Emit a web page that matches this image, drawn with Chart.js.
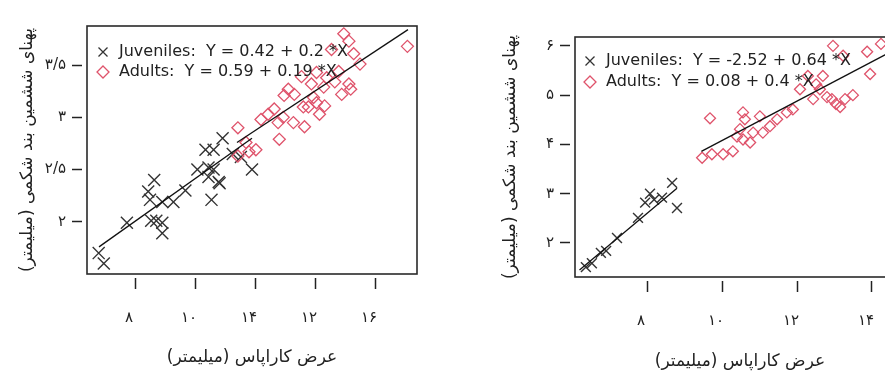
<!DOCTYPE html>
<html>
<head>
<meta charset="utf-8">
<script src="https://cdn.jsdelivr.net/npm/chart.js@4/dist/chart.umd.min.js"></script>
<style>
  html, body { margin: 0; padding: 0; background: #fff; overflow: hidden; }
  #wrap { position: relative; width: 885px; height: 374px; overflow: hidden; }
  #left { position: absolute; left: 0; top: 0; }
  #right { position: absolute; left: 440px; top: 0; }
</style>
</head>
<body>
<div id="wrap">
  <canvas id="left" width="440" height="374"></canvas>
  <canvas id="right" width="490" height="374"></canvas>
</div>
<script>
// ---- left panel data ----
const juvXLeft = [6.79, 6.96, 7.73, 8.64, 8.44, 8.50, 8.54, 8.71, 8.91, 8.91, 8.91, 9.28, 9.68,
  10.08, 10.35, 10.62, 10.92, 10.45, 10.79, 10.55, 10.62, 10.45, 11.26, 11.53, 11.90, 10.82];
const juvYLeft = [1.70, 1.60, 1.99, 2.40, 2.29, 2.21, 2.01, 2.01, 1.99, 1.89, 2.19, 2.19, 2.30,
  2.50, 2.69, 2.69, 2.80, 2.43, 2.38, 2.21, 2.50, 2.52, 2.65, 2.62, 2.50, 2.37];
const adultXLeft = [11.43, 11.70, 12.03, 11.80, 11.43, 12.20, 12.44, 12.64, 12.77, 12.81, 12.94, 12.97,
  13.11, 13.31, 13.28, 13.55, 13.65, 13.61, 13.78, 13.95, 14.05, 14.05, 14.15, 14.29, 14.32, 14.39,
  14.66, 14.79, 14.89, 14.96, 15.13, 15.13, 15.19, 15.50, 15.29, 17.08, 14.55, 13.88];
const adultYLeft = [2.90, 2.76, 2.69, 2.67, 2.63, 2.98, 3.03, 3.08, 2.95, 2.79, 3.00, 3.21,
  3.27, 3.22, 2.95, 3.39, 2.91, 3.10, 3.10, 3.19, 3.14, 3.43, 3.03, 3.29, 3.11, 3.38,
  3.34, 3.44, 3.22, 3.80, 3.73, 3.32, 3.27, 3.51, 3.61, 3.68, 3.65, 3.32];
const juvLineXLeft = [6.8, 11.9];
const juvLineYLeft = [1.76, 2.80];
const adultLineXLeft = [11.4, 17.1];
const adultLineYLeft = [2.76, 3.84];
const xTicksLeft = [8, 10, 12, 14, 16];
const xTickLabelsLeft = ['۸', '۱۰', '۱۴', '۱۲', '۱۶'];
const yTicksLeft = [2, 2.5, 3, 3.5];
const yTickLabelsLeft = ['۲', '۲/۵', '۳', '۳/۵'];
const legendLeft = ['Juveniles:  Y = 0.42 + 0.2 *X', 'Adults:  Y = 0.59 + 0.19 *X'];

// ---- right panel data ----
const juvXRight = [6.37, 6.53, 6.77, 6.91, 7.20, 7.76, 7.95, 8.08, 8.19, 8.40, 8.67, 8.80];
const juvYRight = [1.51, 1.59, 1.80, 1.84, 2.10, 2.51, 2.82, 3.00, 2.88, 2.92, 3.22, 2.71];
const adultXRight = [9.47, 9.73, 10.03, 10.29, 9.68, 10.56, 10.61, 10.48, 10.40, 10.56, 10.75, 10.83,
  11.01, 11.09, 11.28, 11.47, 11.73, 11.89, 12.29, 12.43, 12.51, 12.61, 12.69, 12.80, 12.93, 13.04,
  13.15, 13.28, 13.49, 12.96, 13.23, 13.87, 13.95, 14.24, 12.08];
const adultYRight = [3.73, 3.80, 3.80, 3.86, 4.53, 4.65, 4.51, 4.31, 4.16, 4.10, 4.04, 4.24,
  4.57, 4.24, 4.37, 4.51, 4.65, 4.71, 5.39, 4.92, 5.22, 5.12, 5.39, 4.96, 4.92, 4.82,
  4.76, 4.92, 5.00, 6.00, 5.80, 5.88, 5.43, 6.04, 5.12];
const juvLineXRight = [6.2, 8.8];
const juvLineYRight = [1.45, 3.11];
const adultLineXRight = [9.45, 14.6];
const adultLineYRight = [3.86, 5.92];
const xTicksRight = [8, 10, 12, 14];
const xTickLabelsRight = ['۸', '۱۰', '۱۲', '۱۴'];
const yTicksRight = [2, 3, 4, 5, 6];
const yTickLabelsRight = ['۲', '۳', '۴', '۵', '۶'];
const legendRight = ['Juveniles:  Y = -2.52 + 0.64 *X', 'Adults:  Y = 0.08 + 0.4 *X'];

const xTitle = 'عرض کاراپاس (میلیمتر)';
const yTitle = 'پهنای ششمین بند شکمی (میلیمتر)';

const pink = '#DF536B';
const ink = '#333';

function pts(xs, ys) {
  return xs.map((x, i) => ({ x: x, y: ys[i] }));
}

// box around the plot area
const framePlugin = {
  id: 'frame',
  afterDraw(chart) {
    const a = chart.chartArea;
    const ctx = chart.ctx;
    ctx.save();
    ctx.strokeStyle = '#2a2a2a';
    ctx.lineWidth = 1.6;
    ctx.strokeRect(a.left, a.top, a.right - a.left, a.bottom - a.top);
    ctx.restore();
  }
};

// legend with the fit equations, inside the plot
const eqLegend = {
  id: 'eqLegend',
  afterDatasetsDraw(chart, args, opts) {
    const a = chart.chartArea;
    const ctx = chart.ctx;
    ctx.save();
    ctx.font = '16px "DejaVu Sans"';
    ctx.textBaseline = 'middle';
    opts.lines.forEach((t, i) => {
      const y = a.top + opts.top + i * opts.gap;
      const mx = a.left + opts.left;
      ctx.lineWidth = 1.3;
      ctx.beginPath();
      if (i === 0) {
        ctx.strokeStyle = ink;
        ctx.moveTo(mx - 4.5, y - 4.5); ctx.lineTo(mx + 4.5, y + 4.5);
        ctx.moveTo(mx + 4.5, y - 4.5); ctx.lineTo(mx - 4.5, y + 4.5);
      } else {
        ctx.strokeStyle = pink;
        ctx.moveTo(mx, y - 6); ctx.lineTo(mx + 6, y); ctx.lineTo(mx, y + 6); ctx.lineTo(mx - 6, y); ctx.closePath();
      }
      ctx.stroke();
      ctx.fillStyle = '#222';
      ctx.fillText(t, mx + 16, y);
    });
    ctx.restore();
  }
};

function renderPanel(target, p) {
  new Chart(document.getElementById(target), {
    type: 'scatter',
    data: {
      datasets: [
        { data: pts(p.juvLineX, p.juvLineY), showLine: true, borderColor: '#111', borderWidth: 1.3, pointRadius: 0, order: 0 },
        { data: pts(p.adLineX, p.adLineY), showLine: true, borderColor: '#111', borderWidth: 1.3, pointRadius: 0, order: 0 },
        { data: pts(p.juvX, p.juvY), pointStyle: 'crossRot', pointRadius: p.crossR, borderColor: ink, borderWidth: 1.4, backgroundColor: 'transparent', order: 2 },
        { data: pts(p.adX, p.adY), pointStyle: 'rectRot', pointRadius: p.diaR, borderColor: pink, borderWidth: 1.3, backgroundColor: 'transparent', order: 1 }
      ]
    },
    options: {
      responsive: false,
      animation: false,
      layout: { padding: { left: 0, top: p.padTop, right: p.padRight, bottom: 0 } },
      plugins: {
        legend: { display: false },
        tooltip: { enabled: false },
        eqLegend: { lines: p.legend, left: p.legLeft, top: p.legTop, gap: p.legGap }
      },
      scales: {
        x: {
          type: 'linear', min: p.xMin, max: p.xMax,
          afterBuildTicks: s => { s.ticks = p.xTicks.map(v => ({ value: v })); },
          afterFit: s => { s.height = p.xAxisH; },
          border: { display: false },
          grid: { drawOnChartArea: false, tickLength: 15, tickColor: '#222', tickWidth: 1.5, tickBorderDash: [11, 4], tickBorderDashOffset: 11 },
          ticks: {
            color: '#222', font: { family: 'DejaVu Sans', size: 15 }, padding: 20, labelOffset: -6, maxRotation: 0,
            callback: (v, i) => p.xLabels[i]
          },
          title: { display: true, text: xTitle, color: '#222', font: { family: 'DejaVu Sans', size: 17 }, padding: { bottom: p.xTitlePad } }
        },
        y: {
          type: 'linear', min: p.yMin, max: p.yMax,
          afterBuildTicks: s => { s.ticks = p.yTicks.map(v => ({ value: v })); },
          afterFit: s => { s.width = p.yAxisW; },
          border: { display: false },
          grid: { drawOnChartArea: false, tickLength: 15, tickColor: '#222', tickWidth: 1.5, tickBorderDash: [10, 5] },
          ticks: {
            color: '#222', font: { family: 'DejaVu Sans', size: 15 }, padding: 6,
            callback: (v, i) => p.yLabels[i]
          },
          title: { display: true, text: yTitle, color: '#222', font: { family: 'DejaVu Sans', size: 17 }, padding: { top: p.yTitlePad } }
        }
      }
    },
    plugins: [framePlugin, eqLegend]
  });
}

renderPanel('left', {
  juvX: juvXLeft, juvY: juvYLeft, adX: adultXLeft, adY: adultYLeft,
  juvLineX: juvLineXLeft, juvLineY: juvLineYLeft, adLineX: adultLineXLeft, adLineY: adultLineYLeft,
  xTicks: xTicksLeft, xLabels: xTickLabelsLeft, yTicks: yTicksLeft, yLabels: yTickLabelsLeft,
  legend: legendLeft, legLeft: 16, legTop: 26, legGap: 20,
  xMin: 6.4, xMax: 17.4, yMin: 1.5, yMax: 3.875,
  padTop: 26, padRight: 23, xAxisH: 100, yAxisW: 87, xTitlePad: 6, yTitlePad: 17,
  crossR: 8.5, diaR: 6
});

renderPanel('right', {
  juvX: juvXRight, juvY: juvYRight, adX: adultXRight, adY: adultYRight,
  juvLineX: juvLineXRight, juvLineY: juvLineYRight, adLineX: adultLineXRight, adLineY: adultLineYRight,
  xTicks: xTicksRight, xLabels: xTickLabelsRight, yTicks: yTicksRight, yLabels: yTickLabelsRight,
  legend: legendRight, legLeft: 15, legTop: 24, legGap: 21,
  xMin: 6.08, xMax: 14.88, yMin: 1.31, yMax: 6.18,
  padTop: 37, padRight: 25, xAxisH: 97, yAxisW: 135, xTitlePad: 2, yTitlePad: 60,
  crossR: 7, diaR: 5.5
});
</script>
</body>
</html>
